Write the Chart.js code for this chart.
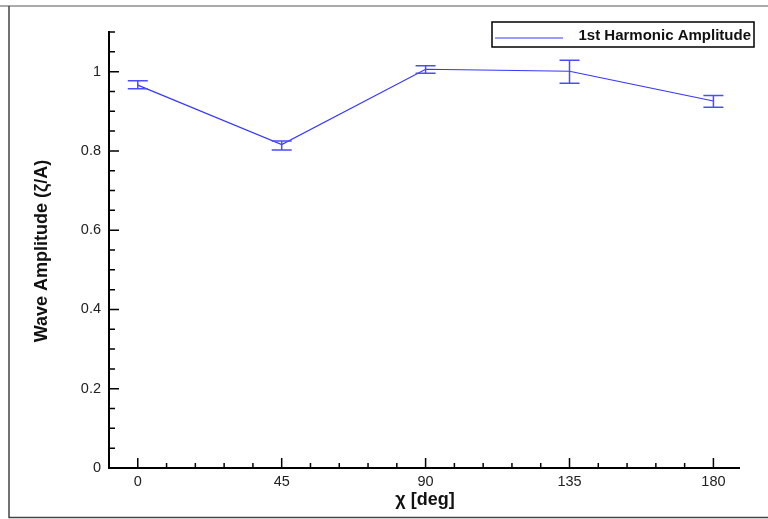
<!DOCTYPE html>
<html>
<head>
<meta charset="utf-8">
<script src="https://cdn.jsdelivr.net/npm/chart.js@4/dist/chart.umd.min.js"></script>
<style>
  body { margin: 0; background: #fff; }
  canvas { display: block; }
</style>
</head>
<body>
<canvas id="waveChart" width="768" height="519"></canvas>
<script>
// chart data
var angles = [0, 45, 90, 135, 180];
var amplitude = [0.966, 0.816, 1.006, 1.001, 0.926];
var errLow = [0.957, 0.802, 0.996, 0.971, 0.910];
var errHigh = [0.977, 0.825, 1.015, 1.029, 0.940];

// tick labels
var xTicks = [0, 45, 90, 135, 180];
var yTicks = [0, 0.2, 0.4, 0.6, 0.8, 1];
var yTickLabels = ["0", "0.2", "0.4", "0.6", "0.8", "1"];

var seriesName = "1st Harmonic Amplitude";
var lineColor = "#3636ff";
var barColor = "#4c4cff";
var font = "'Liberation Sans', Arial, sans-serif";

// points for the line
var points = angles.map(function (a, i) { return { x: a, y: amplitude[i] }; });

// draws the outer frame, inward ticks, error bars, legend and axis titles
var decorations = {
    id: "decorations",
    beforeDraw: function (chart) {
        var ctx = chart.ctx;
        ctx.save();
        ctx.fillStyle = "#fff";
        ctx.fillRect(0, 0, chart.width, chart.height);
        ctx.strokeStyle = "#aaa";
        ctx.lineWidth = 2;
        ctx.beginPath();
        ctx.moveTo(0, 6);
        ctx.lineTo(chart.width, 6);
        ctx.stroke();
        ctx.strokeStyle = "#444";
        ctx.lineWidth = 1.5;
        ctx.beginPath();
        ctx.moveTo(9, 6);
        ctx.lineTo(9, 517.5);
        ctx.lineTo(chart.width, 517.5);
        ctx.stroke();
        ctx.restore();
    },
    afterDatasetsDraw: function (chart) {
        var ctx = chart.ctx;
        var xs = chart.scales.x, ys = chart.scales.y;
        ctx.save();
        ctx.strokeStyle = barColor;
        ctx.lineWidth = 1.5;
        for (var i = 0; i < angles.length; i++) {
            var px = xs.getPixelForValue(angles[i]);
            var top = ys.getPixelForValue(errHigh[i]);
            var bot = ys.getPixelForValue(errLow[i]);
            ctx.beginPath();
            ctx.moveTo(px, top);
            ctx.lineTo(px, bot);
            ctx.moveTo(px - 10, top);
            ctx.lineTo(px + 10, top);
            ctx.moveTo(px - 10, bot);
            ctx.lineTo(px + 10, bot);
            ctx.stroke();
        }
        ctx.restore();
    },
    afterDraw: function (chart) {
        var ctx = chart.ctx;
        var xs = chart.scales.x, ys = chart.scales.y;
        var area = chart.chartArea;
        ctx.save();

        // inward ticks on the x axis
        ctx.strokeStyle = "#000";
        ctx.lineWidth = 1.5;
        ctx.beginPath();
        for (var v = 0; v <= 180; v += 9) {
            var len = (v % 45 === 0) ? 10 : 5;
            var px = xs.getPixelForValue(v);
            ctx.moveTo(px, area.bottom);
            ctx.lineTo(px, area.bottom - len);
        }
        // inward ticks on the y axis
        for (var k = 0; k <= 22; k++) {
            var yv = k * 0.05;
            var l = (k % 4 === 0) ? 10 : 6;
            var py = ys.getPixelForValue(yv);
            ctx.moveTo(area.left, py);
            ctx.lineTo(area.left + l, py);
        }
        ctx.stroke();

        // legend box
        ctx.font = "bold 15px " + font;
        ctx.textBaseline = "middle";
        ctx.fillStyle = "#fff";
        ctx.fillRect(492, 22, 262, 25);
        ctx.strokeStyle = "#000";
        ctx.lineWidth = 1.5;
        ctx.strokeRect(492, 22, 262, 25);
        ctx.strokeStyle = lineColor;
        ctx.lineWidth = 1.2;
        ctx.beginPath();
        ctx.moveTo(495, 38);
        ctx.lineTo(563, 38);
        ctx.stroke();
        ctx.fillStyle = "#111";
        ctx.textAlign = "right";
        ctx.fillText(seriesName, 751, 36);

        // axis titles
        ctx.font = "bold 18px " + font;
        ctx.textAlign = "center";
        ctx.fillText("\u03c7 [deg]", 425, 500);
        ctx.translate(42, 251);
        ctx.rotate(-Math.PI / 2);
        ctx.fillText("Wave Amplitude (\u03b6/A)", 0, 0);
        ctx.restore();
    }
};

new Chart("waveChart", {
    type: "line",
    data: {
        datasets: [{
            label: seriesName,
            data: points,
            borderColor: lineColor,
            borderWidth: 1.2,
            pointRadius: 0,
            tension: 0,
            fill: false
        }]
    },
    options: {
        responsive: false,
        animation: false,
        layout: { padding: { left: 0, top: 32, right: 29, bottom: 0 } },
        plugins: {
            legend: { display: false },
            tooltip: { enabled: false }
        },
        scales: {
            x: {
                type: "linear",
                min: -9,
                max: 188,
                afterBuildTicks: function (scale) {
                    scale.ticks = xTicks.map(function (v) { return { value: v }; });
                },
                afterFit: function (scale) { scale.height = 51; },
                grid: { display: false, drawTicks: false },
                border: { display: true, color: "#000", width: 2 },
                ticks: {
                    padding: 5,
                    color: "#222",
                    font: { family: font, size: 14.5 },
                    maxRotation: 0
                }
            },
            y: {
                min: 0,
                max: 1.1,
                afterBuildTicks: function (scale) {
                    scale.ticks = yTicks.map(function (v) { return { value: v }; });
                },
                afterFit: function (scale) { scale.width = 109; },
                grid: { display: false, drawTicks: false },
                border: { display: true, color: "#000", width: 2 },
                ticks: {
                    padding: 8,
                    color: "#222",
                    font: { family: font, size: 14.5 },
                    callback: function (value, index) { return yTickLabels[index]; }
                }
            }
        }
    },
    plugins: [decorations]
});
</script>
</body>
</html>
